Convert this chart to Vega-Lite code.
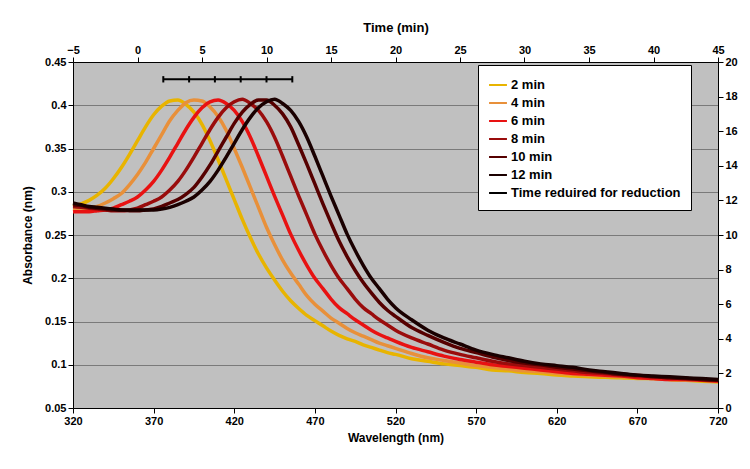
{
  "$schema": "https://vega.github.io/schema/vega-lite/v6.json",
  "width": 645,
  "height": 346,
  "autosize": {"type": "none"},
  "padding": {"left": 73, "top": 62, "right": 32, "bottom": 61},
  "background": "white",
  "config": {
    "view": {"fill": "#C0C0C0", "stroke": null},
    "font": "Liberation Sans",
    "axis": {
      "labelFont": "Liberation Sans", "labelFontWeight": "bold", "labelFontSize": 11, "labelColor": "black",
      "titleFont": "Liberation Sans", "titleFontWeight": "bold", "titleFontSize": 12, "titleColor": "black",
      "domainColor": "black", "tickColor": "black", "tickSize": 5, "grid": false
    }
  },
  "resolve": {"scale": {"x": "independent", "y": "independent"}},
  "layer": [
    {
      "data": {"values": [
        {"w":320,"2 min":0.283,"4 min":0.280,"6 min":0.277,"8 min":0.283,"10 min":0.285,"12 min":0.287},
        {"w":325,"2 min":0.286,"4 min":0.279,"6 min":0.277,"8 min":0.282,"10 min":0.284,"12 min":0.285},
        {"w":330,"2 min":0.290,"4 min":0.281,"6 min":0.277,"8 min":0.281,"10 min":0.282,"12 min":0.283},
        {"w":335,"2 min":0.296,"4 min":0.283,"6 min":0.278,"8 min":0.280,"10 min":0.281,"12 min":0.282},
        {"w":340,"2 min":0.304,"4 min":0.287,"6 min":0.279,"8 min":0.279,"10 min":0.280,"12 min":0.281},
        {"w":345,"2 min":0.315,"4 min":0.292,"6 min":0.281,"8 min":0.278,"10 min":0.279,"12 min":0.280},
        {"w":350,"2 min":0.328,"4 min":0.298,"6 min":0.285,"8 min":0.278,"10 min":0.279,"12 min":0.279},
        {"w":355,"2 min":0.343,"4 min":0.308,"6 min":0.289,"8 min":0.279,"10 min":0.278,"12 min":0.279},
        {"w":360,"2 min":0.359,"4 min":0.320,"6 min":0.294,"8 min":0.281,"10 min":0.278,"12 min":0.279},
        {"w":365,"2 min":0.375,"4 min":0.334,"6 min":0.302,"8 min":0.285,"10 min":0.279,"12 min":0.279},
        {"w":370,"2 min":0.389,"4 min":0.350,"6 min":0.312,"8 min":0.289,"10 min":0.280,"12 min":0.279},
        {"w":375,"2 min":0.399,"4 min":0.366,"6 min":0.325,"8 min":0.294,"10 min":0.283,"12 min":0.280},
        {"w":380,"2 min":0.405,"4 min":0.382,"6 min":0.340,"8 min":0.302,"10 min":0.287,"12 min":0.282},
        {"w":385,"2 min":0.406,"4 min":0.394,"6 min":0.356,"8 min":0.312,"10 min":0.291,"12 min":0.285},
        {"w":390,"2 min":0.401,"4 min":0.403,"6 min":0.372,"8 min":0.325,"10 min":0.297,"12 min":0.289},
        {"w":395,"2 min":0.392,"4 min":0.406,"6 min":0.386,"8 min":0.340,"10 min":0.305,"12 min":0.294},
        {"w":400,"2 min":0.378,"4 min":0.405,"6 min":0.397,"8 min":0.356,"10 min":0.317,"12 min":0.302},
        {"w":405,"2 min":0.359,"4 min":0.398,"6 min":0.404,"8 min":0.372,"10 min":0.331,"12 min":0.312},
        {"w":410,"2 min":0.337,"4 min":0.387,"6 min":0.406,"8 min":0.386,"10 min":0.347,"12 min":0.325},
        {"w":415,"2 min":0.314,"4 min":0.371,"6 min":0.402,"8 min":0.397,"10 min":0.363,"12 min":0.340},
        {"w":420,"2 min":0.291,"4 min":0.350,"6 min":0.394,"8 min":0.404,"10 min":0.379,"12 min":0.356},
        {"w":425,"2 min":0.268,"4 min":0.328,"6 min":0.381,"8 min":0.407,"10 min":0.392,"12 min":0.372},
        {"w":430,"2 min":0.247,"4 min":0.305,"6 min":0.363,"8 min":0.402,"10 min":0.401,"12 min":0.386},
        {"w":435,"2 min":0.228,"4 min":0.282,"6 min":0.341,"8 min":0.394,"10 min":0.406,"12 min":0.397},
        {"w":440,"2 min":0.212,"4 min":0.259,"6 min":0.318,"8 min":0.381,"10 min":0.406,"12 min":0.404},
        {"w":445,"2 min":0.198,"4 min":0.239,"6 min":0.295,"8 min":0.363,"10 min":0.400,"12 min":0.407},
        {"w":450,"2 min":0.185,"4 min":0.221,"6 min":0.273,"8 min":0.341,"10 min":0.390,"12 min":0.402},
        {"w":455,"2 min":0.174,"4 min":0.206,"6 min":0.251,"8 min":0.318,"10 min":0.375,"12 min":0.394},
        {"w":460,"2 min":0.165,"4 min":0.193,"6 min":0.232,"8 min":0.295,"10 min":0.354,"12 min":0.381},
        {"w":465,"2 min":0.157,"4 min":0.180,"6 min":0.215,"8 min":0.273,"10 min":0.332,"12 min":0.363},
        {"w":470,"2 min":0.151,"4 min":0.170,"6 min":0.200,"8 min":0.251,"10 min":0.309,"12 min":0.341},
        {"w":475,"2 min":0.145,"4 min":0.162,"6 min":0.188,"8 min":0.232,"10 min":0.286,"12 min":0.318},
        {"w":480,"2 min":0.139,"4 min":0.154,"6 min":0.176,"8 min":0.215,"10 min":0.264,"12 min":0.295},
        {"w":485,"2 min":0.134,"4 min":0.148,"6 min":0.166,"8 min":0.200,"10 min":0.243,"12 min":0.273},
        {"w":490,"2 min":0.130,"4 min":0.142,"6 min":0.159,"8 min":0.188,"10 min":0.225,"12 min":0.251},
        {"w":495,"2 min":0.127,"4 min":0.137,"6 min":0.152,"8 min":0.176,"10 min":0.209,"12 min":0.232},
        {"w":500,"2 min":0.123,"4 min":0.133,"6 min":0.146,"8 min":0.166,"10 min":0.195,"12 min":0.215},
        {"w":505,"2 min":0.120,"4 min":0.129,"6 min":0.140,"8 min":0.159,"10 min":0.183,"12 min":0.200},
        {"w":510,"2 min":0.117,"4 min":0.125,"6 min":0.135,"8 min":0.152,"10 min":0.172,"12 min":0.188},
        {"w":515,"2 min":0.114,"4 min":0.122,"6 min":0.131,"8 min":0.146,"10 min":0.163,"12 min":0.176},
        {"w":520,"2 min":0.112,"4 min":0.119,"6 min":0.127,"8 min":0.140,"10 min":0.156,"12 min":0.166},
        {"w":530,"2 min":0.107,"4 min":0.113,"6 min":0.120,"8 min":0.131,"10 min":0.143,"12 min":0.152},
        {"w":540,"2 min":0.104,"4 min":0.108,"6 min":0.115,"8 min":0.124,"10 min":0.134,"12 min":0.140},
        {"w":550,"2 min":0.101,"4 min":0.105,"6 min":0.110,"8 min":0.117,"10 min":0.126,"12 min":0.131},
        {"w":560,"2 min":0.099,"4 min":0.102,"6 min":0.106,"8 min":0.112,"10 min":0.119,"12 min":0.124},
        {"w":570,"2 min":0.097,"4 min":0.099,"6 min":0.103,"8 min":0.108,"10 min":0.114,"12 min":0.117},
        {"w":580,"2 min":0.094,"4 min":0.097,"6 min":0.100,"8 min":0.104,"10 min":0.109,"12 min":0.112},
        {"w":590,"2 min":0.093,"4 min":0.095,"6 min":0.098,"8 min":0.101,"10 min":0.105,"12 min":0.108},
        {"w":600,"2 min":0.091,"4 min":0.093,"6 min":0.096,"8 min":0.099,"10 min":0.102,"12 min":0.104},
        {"w":610,"2 min":0.090,"4 min":0.092,"6 min":0.094,"8 min":0.097,"10 min":0.100,"12 min":0.101},
        {"w":620,"2 min":0.088,"4 min":0.090,"6 min":0.092,"8 min":0.095,"10 min":0.097,"12 min":0.099},
        {"w":630,"2 min":0.087,"4 min":0.089,"6 min":0.090,"8 min":0.093,"10 min":0.095,"12 min":0.097},
        {"w":640,"2 min":0.086,"4 min":0.088,"6 min":0.089,"8 min":0.091,"10 min":0.093,"12 min":0.094},
        {"w":650,"2 min":0.0855,"4 min":0.087,"6 min":0.088,"8 min":0.090,"10 min":0.091,"12 min":0.092},
        {"w":660,"2 min":0.085,"4 min":0.086,"6 min":0.087,"8 min":0.088,"10 min":0.089,"12 min":0.090},
        {"w":670,"2 min":0.084,"4 min":0.085,"6 min":0.085,"8 min":0.087,"10 min":0.088,"12 min":0.088},
        {"w":680,"2 min":0.084,"4 min":0.084,"6 min":0.084,"8 min":0.086,"10 min":0.086,"12 min":0.087},
        {"w":690,"2 min":0.083,"4 min":0.083,"6 min":0.083,"8 min":0.085,"10 min":0.085,"12 min":0.086},
        {"w":700,"2 min":0.082,"4 min":0.082,"6 min":0.083,"8 min":0.084,"10 min":0.084,"12 min":0.085},
        {"w":710,"2 min":0.081,"4 min":0.082,"6 min":0.082,"8 min":0.083,"10 min":0.083,"12 min":0.084},
        {"w":720,"2 min":0.080,"4 min":0.081,"6 min":0.081,"8 min":0.082,"10 min":0.082,"12 min":0.083}
      ]},
      "transform": [{"fold": ["2 min", "4 min", "6 min", "8 min", "10 min", "12 min"], "as": ["series", "a"]}],
      "mark": {"type": "line", "interpolate": "monotone", "strokeWidth": 3.5},
      "encoding": {
        "x": {
          "field": "w", "type": "quantitative",
          "scale": {"domain": [320, 720], "nice": false, "zero": false},
          "axis": {"orient": "bottom", "title": "Wavelength (nm)", "values": [320, 370, 420, 470, 520, 570, 620, 670, 720], "labelFlush": false, "titlePadding": 6}
        },
        "y": {
          "field": "a", "type": "quantitative",
          "scale": {"domain": [0.05, 0.45], "nice": false, "zero": false},
          "axis": {"orient": "left", "title": "Absorbance (nm)", "values": [0.05, 0.1, 0.15, 0.2, 0.25, 0.3, 0.35, 0.4, 0.45], "format": "~g", "grid": true, "gridColor": "#7a7a7a", "gridWidth": 1, "labelFlush": false, "titlePadding": 10}
        },
        "color": {
          "field": "series", "type": "nominal",
          "scale": {
            "domain": ["2 min", "4 min", "6 min", "8 min", "10 min", "12 min", "Time reduired for reduction"],
            "range": ["#E8B400", "#E8903A", "#E81212", "#9A0C0C", "#560000", "#1A0000", "#000000"]
          },
          "legend": {
            "orient": "none", "legendX": 405, "legendY": 3, "title": null,
            "fillColor": "white", "strokeColor": "black", "padding": 10,
            "labelFont": "Liberation Sans", "labelFontSize": 13, "labelFontWeight": "bold", "labelColor": "black", "labelLimit": 400,
            "symbolType": "stroke", "symbolSize": 320, "symbolStrokeWidth": 2, "rowPadding": 1, "labelOffset": 3
          }
        }
      }
    },
    {
      "data": {"values": [
        {"t": 2, "v": 19}, {"t": 4, "v": 19}, {"t": 6, "v": 19},
        {"t": 8, "v": 19}, {"t": 10, "v": 19}, {"t": 12, "v": 19}
      ]},
      "encoding": {
        "x": {
          "field": "t", "type": "quantitative",
          "scale": {"domain": [-5, 45], "nice": false, "zero": false},
          "axis": {"orient": "top", "title": "Time (min)", "titleFontSize": 13, "values": [-5, 0, 5, 10, 15, 20, 25, 30, 35, 40, 45], "labelFlush": false, "titlePadding": 10}
        },
        "y": {
          "field": "v", "type": "quantitative",
          "scale": {"domain": [0, 20], "nice": false, "zero": false},
          "axis": {"orient": "right", "title": null, "values": [0, 2, 4, 6, 8, 10, 12, 14, 16, 18, 20], "labelFlush": false}
        },
        "color": {"datum": "Time reduired for reduction"}
      },
      "layer": [
        {"mark": {"type": "line", "strokeWidth": 2}},
        {"mark": {"type": "point", "shape": "M0,-1L0,1", "size": 40, "strokeWidth": 2, "filled": false, "opacity": 1}}
      ]
    }
  ]
}
